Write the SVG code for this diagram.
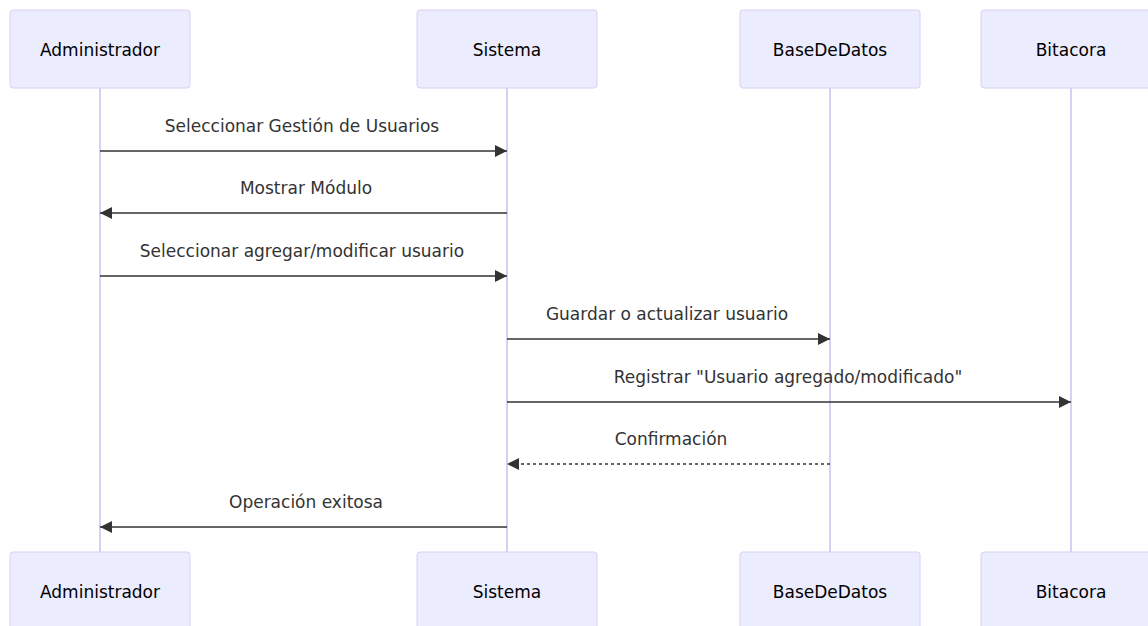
<svg xmlns="http://www.w3.org/2000/svg" width="1148" height="626" viewBox="0 0 1148 626">
  <style>
    .actor rect { fill: #ECECFF; stroke: hsl(259.6, 59.8%, 87.9%); stroke-width: 1; }
    .actor text { font-family: "DejaVu Sans", Verdana, sans-serif; font-size: 17px; fill: #000; text-anchor: middle; dominant-baseline: central; }
    .lifeline { stroke: hsl(259.6, 59.8%, 87.9%); stroke-width: 2; fill: none; }
    .msg { stroke: #333; stroke-width: 1.5; fill: none; }
    .dashed { stroke-dasharray: 3 3; }
    .label { font-family: "DejaVu Sans", Verdana, sans-serif; font-size: 17px; fill: #333; text-anchor: middle; }
  </style>
  <defs>
    <marker id="arrowhead" viewBox="0 0 12 12" refX="12" refY="6" markerWidth="12" markerHeight="12" markerUnits="userSpaceOnUse" orient="auto">
      <path d="M0,0 L12,6 L0,12 z" fill="#333"/>
    </marker>
  </defs>
  <rect width="1148" height="626" fill="#fff"/>

  <!-- lifelines -->
  <g id="lifelines">
    <line class="lifeline" x1="100" y1="88" x2="100" y2="552"/>
    <line class="lifeline" x1="507" y1="88" x2="507" y2="552"/>
    <line class="lifeline" x1="830" y1="88" x2="830" y2="552"/>
    <line class="lifeline" x1="1071" y1="88" x2="1071" y2="552"/>
  </g>

  <!-- participants, top row -->
  <g id="administrador-top" class="actor"><rect x="10" y="10" width="180" height="78" rx="3"/><text x="100" y="50">Administrador</text></g>
  <g id="sistema-top" class="actor"><rect x="417" y="10" width="180" height="78" rx="3"/><text x="507" y="50">Sistema</text></g>
  <g id="basededatos-top" class="actor"><rect x="740" y="10" width="180" height="78" rx="3"/><text x="830" y="50">BaseDeDatos</text></g>
  <g id="bitacora-top" class="actor"><rect x="981" y="10" width="180" height="78" rx="3"/><text x="1071" y="50">Bitacora</text></g>

  <!-- participants, bottom row -->
  <g id="administrador-bottom" class="actor"><rect x="10" y="552" width="180" height="78" rx="3"/><text x="100" y="592">Administrador</text></g>
  <g id="sistema-bottom" class="actor"><rect x="417" y="552" width="180" height="78" rx="3"/><text x="507" y="592">Sistema</text></g>
  <g id="basededatos-bottom" class="actor"><rect x="740" y="552" width="180" height="78" rx="3"/><text x="830" y="592">BaseDeDatos</text></g>
  <g id="bitacora-bottom" class="actor"><rect x="981" y="552" width="180" height="78" rx="3"/><text x="1071" y="592">Bitacora</text></g>

  <!-- messages -->
  <g id="messages">
    <text class="label" x="302" y="132">Seleccionar Gestión de Usuarios</text>
    <line class="msg" x1="100" y1="151" x2="507" y2="151" marker-end="url(#arrowhead)"/>

    <text class="label" x="306" y="194">Mostrar Módulo</text>
    <line class="msg" x1="507" y1="213" x2="100" y2="213" marker-end="url(#arrowhead)"/>

    <text class="label" x="302" y="257">Seleccionar agregar/modificar usuario</text>
    <line class="msg" x1="100" y1="276" x2="507" y2="276" marker-end="url(#arrowhead)"/>

    <text class="label" x="667" y="320">Guardar o actualizar usuario</text>
    <line class="msg" x1="507" y1="339" x2="830" y2="339" marker-end="url(#arrowhead)"/>

    <text class="label" x="788" y="383">Registrar "Usuario agregado/modificado"</text>
    <line class="msg" x1="507" y1="402" x2="1071" y2="402" marker-end="url(#arrowhead)"/>

    <text class="label" x="671" y="445">Confirmación</text>
    <line class="msg dashed" x1="830" y1="464" x2="507" y2="464" marker-end="url(#arrowhead)"/>

    <text class="label" x="306" y="508">Operación exitosa</text>
    <line class="msg" x1="507" y1="527" x2="100" y2="527" marker-end="url(#arrowhead)"/>
  </g>
</svg>
